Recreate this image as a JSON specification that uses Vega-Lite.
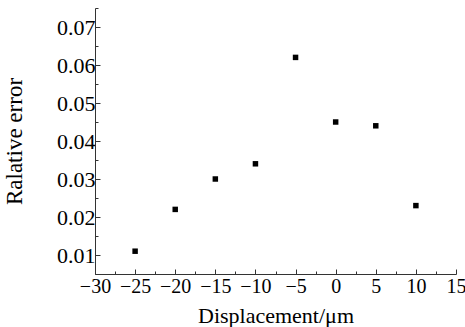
{
  "$schema": "https://vega.github.io/schema/vega-lite/v6.json",
  "autosize": "none",
  "width": 361,
  "height": 266,
  "padding": {"left": 95, "top": 8, "right": 9, "bottom": 53},
  "background": "white",
  "config": {"view": {"stroke": null}, "font": "Liberation Serif"},
  "data": {"values": [
    {"displacement": -25, "error": 0.011},
    {"displacement": -20, "error": 0.022},
    {"displacement": -15, "error": 0.030},
    {"displacement": -10, "error": 0.034},
    {"displacement": -5, "error": 0.062},
    {"displacement": 0, "error": 0.045},
    {"displacement": 5, "error": 0.044},
    {"displacement": 10, "error": 0.023}
  ]},
  "mark": {"type": "point", "shape": "square", "filled": true, "color": "black", "size": 30, "opacity": 1},
  "encoding": {
    "x": {
      "field": "displacement", "type": "quantitative",
      "scale": {"domain": [-30, 15], "nice": false, "zero": false},
      "axis": {
        "title": "Displacement/μm",
        "values": [-30, -27.5, -25, -22.5, -20, -17.5, -15, -12.5, -10, -7.5, -5, -2.5, 0, 2.5, 5, 7.5, 10, 12.5, 15],
        "labelExpr": "datum.value % 5 === 0 ? replace(format(datum.value, 'd'), '-', '−') : ''",
        "grid": false,
        "domainColor": "#333", "tickColor": "#333",
        "tickSize": {"condition": {"test": "datum.value % 5 === 0", "value": -5}, "value": -3},
        "labelFontSize": 20, "labelColor": "black", "labelPadding": 7,
        "labelFlush": false, "labelOverlap": false,
        "titleFontSize": 22, "titleFontWeight": "normal", "titleColor": "black", "titlePadding": 7
      }
    },
    "y": {
      "field": "error", "type": "quantitative",
      "scale": {"domain": [0.005, 0.075], "nice": false, "zero": false},
      "axis": {
        "title": "Ralative error",
        "values": [0.005, 0.01, 0.015, 0.02, 0.025, 0.03, 0.035, 0.04, 0.045, 0.05, 0.055, 0.06, 0.065, 0.07, 0.075],
        "labelExpr": "round(datum.value * 1000) % 10 === 0 ? format(datum.value, '.2f') : ''",
        "grid": false,
        "domainColor": "#333", "tickColor": "#333",
        "tickSize": {"condition": {"test": "round(datum.value * 1000) % 10 === 0", "value": -5}, "value": -3},
        "labelFontSize": 22, "labelColor": "black", "labelPadding": 5,
        "labelFlush": false, "labelOverlap": false,
        "titleFontSize": 23, "titleFontWeight": "normal", "titleColor": "black", "titlePadding": 30
      }
    }
  }
}
